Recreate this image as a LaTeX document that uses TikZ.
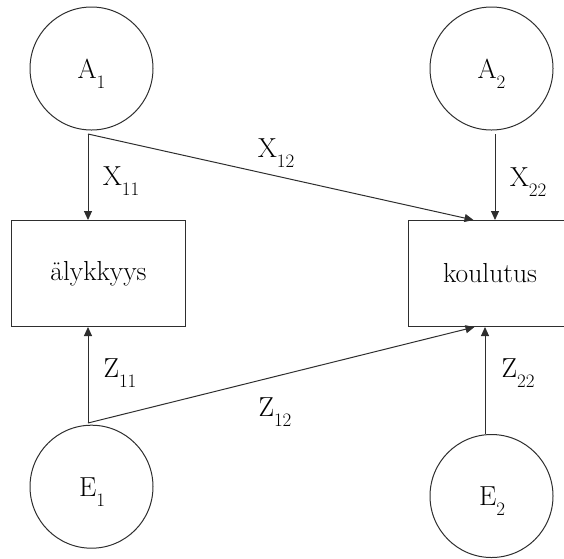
\documentclass[tikz,border=0pt]{standalone}
\usetikzlibrary{arrows.meta,calc}
\definecolor{lc}{HTML}{2E2E2E}
\newcommand\subtxt[2]{#1\raisebox{-10pt}{\fontsize{19}{19}\selectfont #2}}
\begin{document}
\begin{tikzpicture}[x=1pt,y=-1pt,
  every node/.style={font=\fontsize{27.5}{32}\selectfont, inner sep=0pt, text=black},
  circ/.style={draw=lc, line width=1pt, circle, minimum size=123pt},
  boxn/.style={draw=lc, line width=1pt, rectangle, minimum width=#1, minimum height=106pt},
  conn/.style={draw=lc, line width=1pt, -{Triangle[length=9pt,width=8pt]}}
]
\clip (0,0) rectangle (564,558);
% circles
\node[circ] (A1) at (91.5,68.5) {};
\node (A1t) at (91.5,73.5) {\subtxt{A}{1}};
\node[circ] (A2) at (491.5,68.5) {};
\node (A2t) at (491.5,73.5) {\subtxt{A}{2}};
\node[circ] (E1) at (91.5,486.7) {};
\node (E1t) at (92,492) {\subtxt{E}{1}};
\node[circ] (E2) at (491.5,496) {};
\node (E2t) at (492,501) {\subtxt{E}{2}};
% boxes
\node[boxn=174pt] (alyk) at (98.5,273.5) {älykkyys};
\node[boxn=164pt] (koul) at (490,273.5) {koulutus};
% connector start points
\coordinate (a1s) at (88,134);
\coordinate (a2s) at (495,134);
\coordinate (e1s) at (88,423);
\coordinate (e2s) at (485,434);
% connectors
\draw[conn] (a1s) -- (a1s |- alyk.north);
\draw[conn] (a1s) -- ([xshift=66pt]koul.north west);
\draw[conn] (a2s) -- (a2s |- koul.north);
\draw[conn] (e1s) -- (e1s |- alyk.south);
\draw[conn] (e1s) -- ([xshift=67pt]koul.south west);
\draw[conn] (e2s) -- (e2s |- koul.south);
% labels
\node (x11) at (121,181.5) {\subtxt{X}{11}};
\node (x12) at (276,153) {\subtxt{X}{12}};
\node (x22) at (528,182) {\subtxt{X}{22}};
\node (z11) at (120,373) {\subtxt{Z}{11}};
\node (z12) at (275,412) {\subtxt{Z}{12}};
\node (z22) at (518,373) {\subtxt{Z}{22}};
\end{tikzpicture}
\end{document}
